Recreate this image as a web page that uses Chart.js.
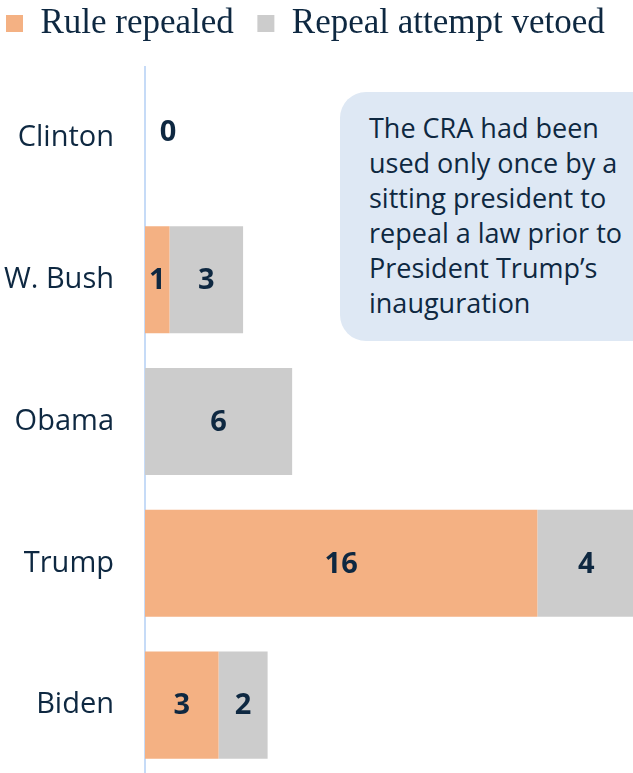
<!DOCTYPE html>
<html>
<head>
<meta charset="utf-8">
<script src="https://cdn.jsdelivr.net/npm/chart.js@4"></script>
<style>
  html, body { margin: 0; padding: 0; background: #fff; overflow: hidden; }
  #wrap { position: relative; width: 633px; height: 776px; }
  #note {
    position: absolute; left: 340px; top: 92px; width: 330px; height: 249px;
    box-sizing: border-box; padding: 18px 0 0 29px;
    background: #DEE8F4; border-radius: 26px;
    font-family: "Open Sans", sans-serif; font-size: 27px; line-height: 35px;
    color: #0E2841;
  }
</style>
</head>
<body>
<div id="wrap">
  <canvas id="chart" width="633" height="776"></canvas>
  <div id="note">The CRA had been<br>used only once by a<br>sitting president to<br>repeal a law prior to<br>President Trump’s<br>inauguration</div>
</div>
<script>
const presidents = ['Clinton', 'W. Bush', 'Obama', 'Trump', 'Biden'];
const repealed = [0, 1, 0, 16, 3];
const vetoed = [0, 3, 6, 4, 2];

const NAVY = '#0E2841';

// numbers in the middle of each segment, plus a "0" for empty rows
const barLabels = {
    id: 'barLabels',
    afterDatasetsDraw(chart) {
        const ctx = chart.ctx;
        ctx.save();
        ctx.font = 'bold 29px "Open Sans", sans-serif';
        ctx.fillStyle = NAVY;
        ctx.textAlign = 'center';
        ctx.textBaseline = 'middle';
        chart.data.datasets.forEach((ds, i) => {
            chart.getDatasetMeta(i).data.forEach((bar, j) => {
                if (!ds.data[j]) return;
                ctx.fillText(ds.data[j], (bar.base + bar.x) / 2, bar.y + 1);
            });
        });
        const first = chart.getDatasetMeta(0).data;
        presidents.forEach((p, j) => {
            if (repealed[j] + vetoed[j] === 0) {
                ctx.fillText('0', chart.chartArea.left + 23, first[j].y - 5);
            }
        });
        ctx.restore();
    }
};

// make the legend block taller so the plot starts lower
const legendHeight = {
    id: 'legendHeight',
    beforeInit(chart) {
        const fit = chart.legend.fit;
        chart.legend.fit = function () {
            fit.call(this);
            this.height = 67;
        };
    }
};

new Chart(document.getElementById('chart'), {
    type: 'bar',
    data: {
        labels: presidents,
        datasets: [
            { label: 'Rule repealed', data: repealed, backgroundColor: '#F4B183' },
            { label: 'Repeal attempt vetoed', data: vetoed, backgroundColor: '#CCCCCC' }
        ]
    },
    options: {
        indexAxis: 'y',
        responsive: false,
        animation: false,
        categoryPercentage: 1,
        barPercentage: 0.755,
        layout: { padding: 0 },
        scales: {
            x: { stacked: true, min: 0, max: 19.9, display: false },
            y: {
                stacked: true,
                grid: { display: false },
                border: { color: '#C6DBF7', width: 2 },
                ticks: { color: NAVY, padding: 23, font: { family: '"Open Sans", sans-serif', size: 29 } },
                afterFit: (scale) => {
                    scale.width = 145;
                    scale.paddingTop = 0;
                    scale.paddingBottom = 0;
                }
            }
        },
        plugins: {
            legend: {
                position: 'top',
                align: 'start',
                labels: {
                    color: NAVY,
                    boxWidth: 17,
                    boxHeight: 17,
                    padding: 6,
                    font: { family: '"Liberation Serif", serif', size: 35 },
                    generateLabels(chart) {
                        const items = Chart.defaults.plugins.legend.labels.generateLabels(chart);
                        items[0].text += '\u2002';
                        return items;
                    }
                }
            },
            tooltip: { enabled: false }
        }
    },
    plugins: [barLabels, legendHeight]
});
</script>
</body>
</html>
